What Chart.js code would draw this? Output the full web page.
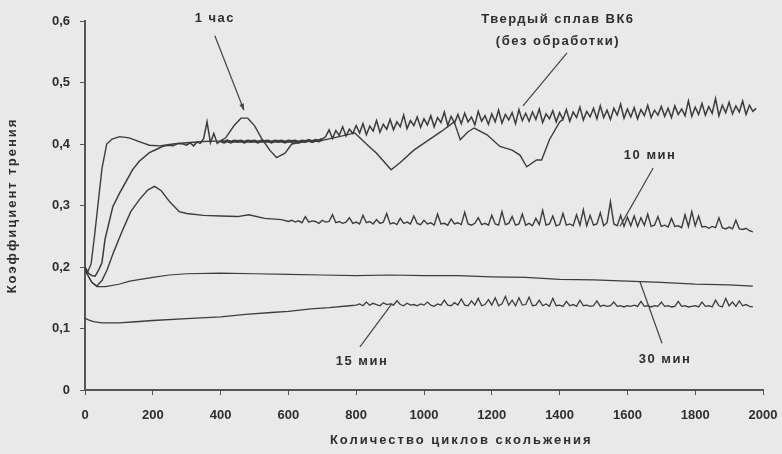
<!DOCTYPE html>
<html>
<head>
<meta charset="utf-8">
<script src="https://cdn.jsdelivr.net/npm/chart.js@4.4.1/dist/chart.umd.min.js"></script>
<style>
  html, body { margin: 0; padding: 0; background: #e9e9e9; }
  canvas { display: block; }
</style>
</head>
<body>
<canvas id="frictionChart" width="782" height="454"></canvas>
<script>
// tick labels
const xTickLabels = ['0', '200', '400', '600', '800', '1000', '1200', '1400', '1600', '1800', '2000'];
const yTickLabels = ['0', '0,1', '0,2', '0,3', '0,4', '0,5', '0,6'];
const xAxisTitle = 'Количество циклов скольжения';
const yAxisTitle = 'Коэффициент трения';

// Твердый сплав ВК6 (без обработки): run-in part, then a record read every 10 cycles
const bk6StartCycles = [0, 10, 20, 30, 40, 50, 59, 73, 82, 102, 123, 140, 160, 190, 210, 228, 245, 260, 275, 290];
const bk6StartValues = [0.200, 0.190, 0.186, 0.185, 0.195, 0.207, 0.245, 0.277, 0.298, 0.320, 0.341, 0.358, 0.372, 0.386, 0.391, 0.396, 0.398, 0.397, 0.401, 0.400];
const bk6RecordFrom = 300, bk6RecordStep = 10;
const bk6Record = [
  0.398, 0.402, 0.397, 0.403, 0.401, 0.409, 0.436, 0.402, 0.417, 0.401,
  0.405, 0.403, 0.405, 0.403, 0.405, 0.404, 0.405, 0.403, 0.405, 0.404,
  0.405, 0.403, 0.405, 0.404, 0.405, 0.403, 0.405, 0.404, 0.405, 0.403,
  0.405, 0.404, 0.405, 0.403, 0.405, 0.404, 0.406, 0.404, 0.406, 0.405,
  0.408, 0.412, 0.423, 0.409, 0.422, 0.414, 0.428, 0.413, 0.424, 0.417,
  0.430, 0.418, 0.433, 0.415, 0.429, 0.421, 0.438, 0.419, 0.432, 0.424,
  0.440, 0.423, 0.436, 0.428, 0.447, 0.425, 0.438, 0.430, 0.444, 0.427,
  0.441, 0.431, 0.446, 0.428, 0.443, 0.435, 0.452, 0.430, 0.445, 0.434,
  0.448, 0.433, 0.450, 0.436, 0.444, 0.431, 0.453, 0.437, 0.446, 0.432,
  0.449, 0.436, 0.455, 0.434, 0.448, 0.439, 0.451, 0.433, 0.456, 0.438,
  0.450, 0.437, 0.452, 0.440, 0.457, 0.435, 0.449, 0.441, 0.454, 0.436,
  0.451, 0.440, 0.456, 0.437, 0.452, 0.443, 0.460, 0.439, 0.453, 0.444,
  0.458, 0.441, 0.462, 0.443, 0.455, 0.440, 0.458, 0.447, 0.465, 0.442,
  0.457, 0.444, 0.459, 0.441, 0.456, 0.446, 0.463, 0.443, 0.455, 0.447,
  0.461, 0.445, 0.458, 0.443, 0.462, 0.448, 0.457, 0.446, 0.470, 0.445,
  0.460, 0.448, 0.466, 0.447, 0.461, 0.450, 0.474, 0.446, 0.463, 0.451,
  0.468, 0.449, 0.462, 0.452, 0.470, 0.448, 0.463, 0.453, 0.458
];

// 1 час
const hourCycles = [0, 8, 18, 28, 38, 50, 64, 80, 102, 130, 160, 190, 220, 260, 300, 350, 400, 415, 440, 460,
  480, 500, 520, 545, 565, 590, 610, 650, 700, 750, 796, 830, 860, 903, 930, 970, 1010, 1050, 1089, 1107,
  1130, 1148, 1186, 1224, 1260, 1283, 1303, 1332, 1347, 1370, 1400, 1410];
const hourValues = [0.200, 0.192, 0.205, 0.250, 0.300, 0.360, 0.400, 0.408, 0.412, 0.410, 0.404, 0.398, 0.397, 0.400, 0.402, 0.404, 0.405, 0.410, 0.430, 0.442,
  0.442, 0.430, 0.410, 0.390, 0.378, 0.385, 0.400, 0.404, 0.406, 0.412, 0.418, 0.400, 0.385, 0.358, 0.370, 0.390, 0.405, 0.420, 0.436, 0.407,
  0.420, 0.426, 0.415, 0.396, 0.390, 0.382, 0.363, 0.374, 0.374, 0.407, 0.436, 0.440];

// 10 мин
const min10StartCycles = [0, 10, 20, 35, 50, 65, 85, 111, 135, 161, 185, 205, 225, 250, 278, 300, 350, 400, 450, 483, 530, 580];
const min10StartValues = [0.195, 0.185, 0.175, 0.169, 0.178, 0.195, 0.225, 0.260, 0.290, 0.310, 0.325, 0.331, 0.324, 0.306, 0.290, 0.287, 0.284, 0.283, 0.282, 0.285, 0.279, 0.277];
const min10RecordFrom = 600, min10RecordStep = 10;
const min10Record = [
  0.274, 0.276, 0.273, 0.275, 0.272, 0.282, 0.273, 0.275, 0.274, 0.271,
  0.276, 0.273, 0.274, 0.285, 0.272, 0.274, 0.271, 0.273, 0.280, 0.271,
  0.273, 0.270, 0.284, 0.272, 0.274, 0.270, 0.277, 0.271, 0.273, 0.287,
  0.270, 0.272, 0.269, 0.279, 0.271, 0.273, 0.270, 0.283, 0.271, 0.269,
  0.276, 0.270, 0.272, 0.268, 0.286, 0.270, 0.271, 0.268, 0.278, 0.270,
  0.272, 0.269, 0.289, 0.270, 0.268, 0.271, 0.280, 0.269, 0.271, 0.268,
  0.284, 0.270, 0.268, 0.290, 0.269, 0.271, 0.282, 0.268, 0.270, 0.286,
  0.268, 0.271, 0.267, 0.279, 0.269, 0.292, 0.268, 0.270, 0.283, 0.267,
  0.269, 0.287, 0.268, 0.270, 0.267, 0.285, 0.268, 0.293, 0.267, 0.284,
  0.268, 0.270, 0.288, 0.267, 0.272, 0.306, 0.270, 0.267, 0.284, 0.266,
  0.281, 0.267, 0.283, 0.266, 0.280, 0.268, 0.286, 0.266, 0.268, 0.282,
  0.266, 0.268, 0.265, 0.279, 0.266, 0.267, 0.264, 0.285, 0.266, 0.290,
  0.267, 0.283, 0.265, 0.266, 0.263, 0.266, 0.264, 0.280, 0.264, 0.262,
  0.265, 0.262, 0.276, 0.262, 0.261, 0.263, 0.259, 0.257
];

// 15 мин
const min15StartCycles = [0, 10, 25, 50, 100, 150, 200, 300, 400, 474, 550, 600, 667, 720, 780];
const min15StartValues = [0.117, 0.114, 0.111, 0.109, 0.109, 0.111, 0.113, 0.116, 0.119, 0.123, 0.126, 0.128, 0.132, 0.134, 0.137];
const min15RecordFrom = 800, min15RecordStep = 10;
const min15Record = [
  0.138, 0.140, 0.137, 0.143, 0.138, 0.141, 0.139, 0.137, 0.142, 0.139,
  0.140, 0.138, 0.145, 0.139, 0.137, 0.141, 0.138, 0.139, 0.137, 0.140,
  0.138, 0.143, 0.138, 0.136, 0.140, 0.138, 0.146, 0.138, 0.137, 0.142,
  0.138, 0.148, 0.138, 0.137, 0.145, 0.138, 0.149, 0.137, 0.139, 0.147,
  0.138, 0.150, 0.137, 0.140, 0.152, 0.138, 0.146, 0.137, 0.150, 0.138,
  0.139, 0.151, 0.137, 0.138, 0.146, 0.137, 0.140, 0.136, 0.149, 0.137,
  0.138, 0.136, 0.144, 0.137, 0.139, 0.136, 0.146, 0.137, 0.138, 0.136,
  0.137, 0.145, 0.136, 0.138, 0.136, 0.137, 0.143, 0.136, 0.137, 0.135,
  0.137, 0.136, 0.138, 0.136, 0.144, 0.136, 0.137, 0.135, 0.137, 0.136,
  0.143, 0.136, 0.137, 0.135, 0.136, 0.144, 0.136, 0.137, 0.135, 0.136,
  0.137, 0.135, 0.143, 0.136, 0.137, 0.135, 0.146, 0.137, 0.135, 0.149,
  0.137, 0.143, 0.136, 0.145, 0.137, 0.139, 0.136, 0.135
];

// 30 мин
const min30Cycles = [0, 10, 20, 35, 60, 100, 132, 200, 249, 300, 400, 500, 600, 700, 800, 900, 1000, 1100, 1200, 1300, 1400, 1500, 1600, 1700, 1800, 1900, 1970];
const min30Values = [0.196, 0.185, 0.175, 0.168, 0.168, 0.172, 0.177, 0.183, 0.187, 0.189, 0.190, 0.189, 0.188, 0.187, 0.186, 0.187, 0.186, 0.186, 0.184, 0.183, 0.180, 0.179, 0.177, 0.175, 0.172, 0.171, 0.169];

function toPoints(xs, ys) {
  return xs.map((x, i) => ({ x: x, y: ys[i] }));
}
function recordPoints(from, step, ys) {
  return ys.map((y, i) => ({ x: from + i * step, y: y }));
}

const bk6Points = toPoints(bk6StartCycles, bk6StartValues).concat(recordPoints(bk6RecordFrom, bk6RecordStep, bk6Record));
const min10Points = toPoints(min10StartCycles, min10StartValues).concat(recordPoints(min10RecordFrom, min10RecordStep, min10Record));
const min15Points = toPoints(min15StartCycles, min15StartValues).concat(recordPoints(min15RecordFrom, min15RecordStep, min15Record));

const inkColor = '#3c3c3c';
const textColor = '#2e2e2e';
const fontFamily = '"Liberation Sans", Arial, sans-serif';

// curve labels, placed in data units
const notes = [
  { text: ['1 час'], at: [383, 0.604], from: [383, 0.576], to: [469, 0.455], arrow: true },
  { text: ['Твердый сплав ВК6', '(без обработки)'], at: [1395, 0.603], from: [1422, 0.548], to: [1292, 0.462] },
  { text: ['10 мин'], at: [1667, 0.382], from: [1676, 0.361], to: [1578, 0.266] },
  { text: ['15 мин'], at: [817, 0.046], from: [811, 0.070], to: [906, 0.141] },
  { text: ['30 мин'], at: [1711, 0.049], from: [1702, 0.076], to: [1637, 0.176] }
];

const paperPlugin = {
  id: 'paper',
  beforeDraw(chart) {
    const ctx = chart.ctx;
    ctx.save();
    ctx.fillStyle = '#e9e9e9';
    ctx.fillRect(0, 0, chart.width, chart.height);
    ctx.restore();
  }
};

const notesPlugin = {
  id: 'notes',
  afterDatasetsDraw(chart) {
    const ctx = chart.ctx;
    const xs = chart.scales.x, ys = chart.scales.y;
    const area = chart.chartArea;
    ctx.save();
    ctx.strokeStyle = '#444';
    ctx.fillStyle = textColor;
    ctx.lineWidth = 1.2;
    ctx.font = 'bold 13px ' + fontFamily;
    ctx.letterSpacing = '1.5px';
    ctx.textAlign = 'center';
    ctx.textBaseline = 'middle';
    notes.forEach(n => {
      const x1 = xs.getPixelForValue(n.from[0]), y1 = ys.getPixelForValue(n.from[1]);
      const x2 = xs.getPixelForValue(n.to[0]), y2 = ys.getPixelForValue(n.to[1]);
      ctx.beginPath();
      ctx.moveTo(x1, y1);
      ctx.lineTo(x2, y2);
      ctx.stroke();
      if (n.arrow) {
        const a = Math.atan2(y2 - y1, x2 - x1);
        ctx.beginPath();
        ctx.moveTo(x2, y2);
        ctx.lineTo(x2 - 7 * Math.cos(a - 0.35), y2 - 7 * Math.sin(a - 0.35));
        ctx.lineTo(x2 - 7 * Math.cos(a + 0.35), y2 - 7 * Math.sin(a + 0.35));
        ctx.closePath();
        ctx.fillStyle = '#444';
        ctx.fill();
        ctx.fillStyle = textColor;
      }
      const cx = xs.getPixelForValue(n.at[0]), cy = ys.getPixelForValue(n.at[1]);
      n.text.forEach((line, i) => ctx.fillText(line, cx, cy + i * 22));
    });

    // axis titles, widely spaced as in the print
    ctx.letterSpacing = '2px';
    ctx.fillText(xAxisTitle, xs.getPixelForValue(1110), 440);
    ctx.translate(12, (area.top + area.bottom) / 2);
    ctx.rotate(-Math.PI / 2);
    ctx.fillText(yAxisTitle, 0, 0);
    ctx.restore();
  }
};

function line(label, data, width) {
  return {
    label: label,
    data: data,
    borderColor: inkColor,
    borderWidth: width,
    pointRadius: 0,
    tension: 0,
    fill: false
  };
}

const bk6Set = line('Твердый сплав ВК6 (без обработки)', bk6Points, 1.5);
bk6Set.segment = { borderWidth: c => (c.p0.parsed.x >= 400 && c.p1.parsed.x <= 700) ? 3 : undefined };

const frictionChart = new Chart(document.getElementById('frictionChart').getContext('2d'), {
  type: 'line',
  data: {
    datasets: [
      bk6Set,
      line('1 час', toPoints(hourCycles, hourValues), 1.4),
      line('10 мин', min10Points, 1.4),
      line('15 мин', min15Points, 1.3),
      line('30 мин', toPoints(min30Cycles, min30Values), 1.2)
    ]
  },
  options: {
    responsive: false,
    animation: false,
    layout: { padding: { left: 0, right: 19, top: 21, bottom: 0 } },
    plugins: {
      legend: { display: false },
      tooltip: { enabled: false }
    },
    scales: {
      x: {
        type: 'linear',
        min: 0,
        max: 2000,
        afterFit: s => { s.height = 64; s.paddingLeft = 0; s.paddingRight = 0; },
        ticks: {
          stepSize: 200,
          color: textColor,
          font: { family: fontFamily, size: 13, weight: 'bold' },
          padding: 13,
          maxRotation: 0,
          callback: (v, i) => xTickLabels[i]
        },
        grid: { drawOnChartArea: false, drawTicks: true, tickLength: 5, color: '#555' },
        border: { display: true, color: '#555', width: 2 }
      },
      y: {
        min: 0,
        max: 0.6,
        afterFit: s => { s.width = 85; },
        ticks: {
          stepSize: 0.1,
          color: textColor,
          font: { family: fontFamily, size: 13, weight: 'bold' },
          padding: 10,
          callback: (v, i) => yTickLabels[i]
        },
        grid: { drawOnChartArea: false, drawTicks: true, tickLength: 5, color: '#555' },
        border: { display: true, color: '#555', width: 2 }
      }
    }
  },
  plugins: [paperPlugin, notesPlugin]
});
</script>
</body>
</html>
